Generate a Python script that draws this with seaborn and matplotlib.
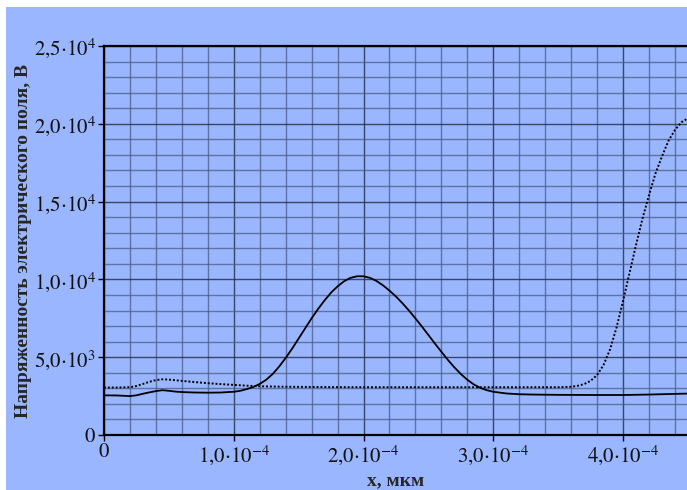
import numpy as np
import pandas as pd
import matplotlib
matplotlib.use("Agg")
import matplotlib.pyplot as plt
from matplotlib.patches import Rectangle
from matplotlib.ticker import MultipleLocator, FixedLocator, FixedFormatter
import seaborn as sns

# ---- data (x in units of 1e-5, E in units of 1e3) ----
solid_x = [0, 1, 2, 2.5, 3, 3.5, 4, 4.5, 5, 5.5, 6, 7, 8, 9, 10, 10.5, 11, 11.5,
           12, 12.5, 13, 13.5, 14, 14.5, 15, 15.5, 16, 16.5, 17, 17.5, 18, 18.5,
           19, 19.5, 20, 20.5, 21, 21.5, 22, 22.5, 23, 23.5, 24, 24.5, 25, 25.5,
           26, 26.5, 27, 27.5, 28, 28.5, 29, 29.5, 30, 31, 32, 33, 35, 38, 40,
           42, 44.9]
solid_y = [2.55, 2.54, 2.5, 2.55, 2.65, 2.74, 2.82, 2.88, 2.84, 2.79, 2.76, 2.73,
           2.72, 2.73, 2.78, 2.84, 2.95, 3.08, 3.28, 3.55, 3.92, 4.4, 4.95, 5.55,
           6.2, 6.85, 7.5, 8.1, 8.65, 9.15, 9.55, 9.88, 10.1, 10.2, 10.2, 10.1,
           9.9, 9.62, 9.28, 8.9, 8.47, 8.0, 7.5, 6.97, 6.43, 5.88, 5.35, 4.83,
           4.35, 3.92, 3.55, 3.25, 3.03, 2.88, 2.78, 2.67, 2.62, 2.6, 2.58, 2.57,
           2.57, 2.6, 2.66]
dotted_x = [0, 1, 2, 2.5, 3, 3.5, 4, 4.5, 5, 6, 7, 8, 9, 10, 11, 12, 14, 17, 20,
            30, 35, 36, 36.5, 37, 37.5, 38, 38.5, 39, 39.5, 40, 40.5, 41, 41.5,
            42, 42.5, 43, 43.5, 44, 44.5, 44.9]
dotted_y = [3.05, 3.05, 3.07, 3.15, 3.28, 3.42, 3.53, 3.58, 3.56, 3.48, 3.4,
            3.33, 3.27, 3.22, 3.17, 3.13, 3.1, 3.08, 3.07, 3.07, 3.07, 3.1, 3.16,
            3.27, 3.48, 3.85, 4.5, 5.5, 6.9, 8.6, 10.4, 12.2, 13.9, 15.4, 16.8,
            17.9, 18.9, 19.6, 20.1, 20.3]

x_ticks = [0, 1e-4, 2e-4, 3e-4, 4e-4]
x_labels = [r"$0$", r"$1{,}0{\cdot}10^{-4}$", r"$2{,}0{\cdot}10^{-4}$",
            r"$3{,}0{\cdot}10^{-4}$", r"$4{,}0{\cdot}10^{-4}$"]
y_ticks = [0, 5e3, 1e4, 1.5e4, 2e4, 2.5e4]
y_labels = [r"$0$", r"$5{,}0{\cdot}10^{3}$", r"$1{,}0{\cdot}10^{4}$",
            r"$1{,}5{\cdot}10^{4}$", r"$2{,}0{\cdot}10^{4}$", r"$2{,}5{\cdot}10^{4}$"]

df_solid = pd.DataFrame({"x": np.array(solid_x) * 1e-5, "E": np.array(solid_y) * 1e3})
df_dot = pd.DataFrame({"x": np.array(dotted_x) * 1e-5, "E": np.array(dotted_y) * 1e3})

sns.set_style("white")
plt.rcParams["font.family"] = ["Liberation Serif", "DejaVu Serif"]
plt.rcParams["mathtext.fontset"] = "stix"

BG = "#9AB6FE"
fig = plt.figure(figsize=(6.87, 4.90), dpi=100)
fig.patch.set_facecolor(BG)
# white margins at top and left
fig.patches.append(Rectangle((0, 483 / 490), 1, 7 / 490, transform=fig.transFigure,
                             facecolor="white", edgecolor="none", zorder=-1))
fig.patches.append(Rectangle((0, 0), 6 / 687, 1, transform=fig.transFigure,
                             facecolor="white", edgecolor="none", zorder=-1))

ax = fig.add_axes([104 / 687, 55 / 490, 583 / 687, 389 / 490])
ax.set_facecolor(BG)

sns.lineplot(data=df_solid, x="x", y="E", ax=ax, color="black", linewidth=1.3,
             estimator=None, sort=False, zorder=5)
sns.lineplot(data=df_dot, x="x", y="E", ax=ax, color="black", linewidth=1.4,
             linestyle=(0, (1, 1)), estimator=None, sort=False, zorder=5)

ax.set_xlim(0, 583 / 129.75 * 1e-4)
ax.set_ylim(0, 2.5e4)

ax.xaxis.set_major_locator(FixedLocator(x_ticks))
ax.xaxis.set_major_formatter(FixedFormatter(x_labels))
ax.yaxis.set_major_locator(FixedLocator(y_ticks))
ax.yaxis.set_major_formatter(FixedFormatter(y_labels))
ax.xaxis.set_minor_locator(MultipleLocator(2e-5))
ax.yaxis.set_minor_locator(MultipleLocator(1e3))

ax.grid(which="major", color="#26324f", linewidth=1.0, alpha=0.85)
ax.grid(which="minor", color="#4c5c86", linewidth=1.0, alpha=0.75)
ax.set_axisbelow(True)

ax.tick_params(axis="both", which="major", direction="out", length=4, width=1,
               color="black", labelsize=15, labelcolor="#111111", pad=2,
               left=True, bottom=True)
ax.tick_params(axis="both", which="minor", length=0)

for side in ["left", "top", "bottom"]:
    ax.spines[side].set_visible(True)
    ax.spines[side].set_color("black")
    ax.spines[side].set_linewidth(1.6)
ax.spines["right"].set_visible(False)

ax.set_xlabel("x, мкм", fontsize=14, fontweight="bold", labelpad=4)
ax.set_ylabel("Напряженность электрического поля, В", fontsize=14,
              fontweight="bold", labelpad=1)

fig.savefig("out.png", dpi=100, facecolor=fig.get_facecolor())
